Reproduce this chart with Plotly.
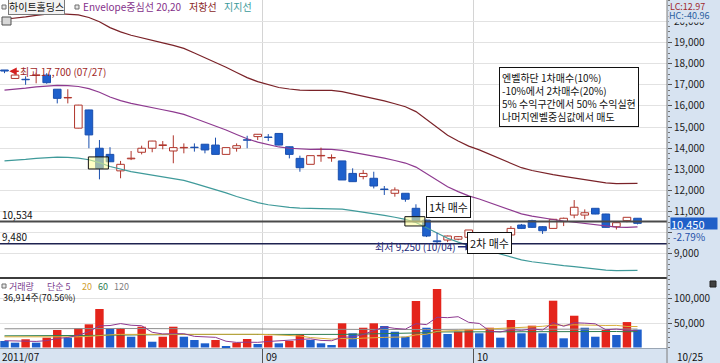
import plotly.graph_objects as go

# ---------------- data ----------------
DATES = ([f"2011-07-{d:02d}" for d in (27, 28, 29)]
         + [f"2011-08-{d:02d}" for d in (1, 2, 3, 4, 5, 8, 9, 10, 11, 12, 16, 17, 18, 19, 22, 23, 24, 25, 26, 29, 30, 31)]
         + [f"2011-09-{d:02d}" for d in (1, 2, 5, 6, 7, 8, 9, 14, 15, 16, 19, 20, 21, 22, 23, 26, 27, 28, 29, 30)]
         + [f"2011-10-{d:02d}" for d in (4, 5, 6, 7, 10, 11, 12, 13, 14, 17, 18, 19, 20, 21, 24, 25)])

OPEN = [17700, 17300, 17260, 17440, 17460, 16790, 16380, 14950, 15810, 14000,
        13710, 12930, 13500, 13810, 14000, 14130, 13870, 14020, 14050, 14190,
        14150, 13710, 14000, 14400, 14550, 14530, 14700, 14070, 13520, 13240,
        13640, 13540, 13400, 12810, 12660, 12580, 12070, 11870, 11870, 11160,
        10600, 9620, 9660, 9700, 9790, 9350, 9660, 9580, 9900, 10370,
        10575, 10290, 10210, 10530, 10840, 10840, 11160, 10890, 10290, 10575, 10690]
HIGH = [17700, 17560, 17400, 17570, 17550, 16800, 16790, 16050, 15820, 14390,
        14050, 13400, 13870, 14120, 14350, 14340, 14610, 14230, 14230, 14200,
        14500, 14030, 14230, 14590, 14670, 14670, 14710, 14080, 13650, 13650,
        14030, 13710, 13400, 13050, 12970, 12890, 12215, 12150, 11880, 11350,
        10620, 10000, 9870, 9850, 10140, 9600, 9700, 9850, 10320, 10420,
        10620, 10320, 10660, 10720, 11550, 11110, 11170, 10900, 10490, 10740, 10700]
LOW = [17550, 17280, 17000, 17070, 17050, 16120, 16120, 14940, 14000, 12530,
       13350, 12580, 13440, 13710, 13810, 13950, 13290, 13760, 13840, 13760,
       13700, 13710, 13840, 14000, 14390, 14340, 14140, 13520, 12890, 13240,
       13360, 13360, 12500, 12410, 12530, 12100, 11790, 11710, 11470, 10520,
       9800, 9480, 9560, 9650, 9780, 9250, 9480, 9560, 9820, 10180,
       10230, 9950, 10200, 10320, 10690, 10640, 10880, 10250, 10160, 10500, 10400]
CLOSE = [17650, 17460, 17240, 17470, 17100, 16360, 16400, 16040, 14630, 13050,
         13360, 13240, 13530, 14000, 14340, 14160, 14030, 14040, 14030, 13920,
         13710, 14030, 14120, 14380, 14660, 14510, 14150, 13710, 13080, 13650,
         13660, 13560, 12500, 12420, 12810, 12215, 12050, 12025, 11590, 10530,
         9850, 9580, 9850, 9820, 10135, 9580, 9510, 9770, 10210, 10210,
         10260, 10100, 10640, 10690, 11210, 10950, 10890, 10260, 10480, 10735, 10450]

# Envelope (20-day centre line, +/-20 %)
ENV_CENTER = [16750, 16780, 16840, 16900, 16950, 16970, 16960, 16920, 16820, 16650,
              16420, 16250, 16120, 16010, 15910, 15820, 15720, 15600, 15420, 15240,
              15060, 14860, 14650, 14450, 14290, 14160, 14060, 14000, 13960, 13950,
              13960, 13950, 13900, 13810, 13730, 13640, 13530, 13420, 13300, 13110,
              12800, 12480, 12180, 11950, 11750, 11600, 11420, 11230, 11050, 10900,
              10790, 10700, 10630, 10560, 10500, 10420, 10360, 10300, 10270, 10260, 10280]
ENV_PCT = 20

VOLUME = [13400, 9900, 16900, 9900, 20200, 36000, 20200, 39500, 47700, 79200,
          39500, 40200, 22200, 42800, 11900, 22200, 42800, 22200, 15400, 8600,
          15400, 3100, 9900, 17500, 7200, 24300, 8600, 13400, 27200, 15400,
          8600, 5100, 49800, 29200, 40700, 49800, 44200, 32500, 22200, 95700,
          40700, 120400, 27800, 32500, 37400, 29200, 40700, 20200, 56600, 29200,
          44900, 29200, 96300, 18900, 65400, 40700, 22200, 36000, 25700, 52316, 36914]

# volume moving averages (thousands of shares)
VOL_MA5_K = [14.0, 13.0, 13.0, 12.5, 14.1, 18.6, 20.6, 25.2, 32.7, 44.5,
             45.2, 49.2, 45.8, 44.8, 31.3, 27.9, 28.4, 28.4, 22.9, 22.2,
             20.9, 12.9, 10.5, 10.9, 10.6, 12.4, 13.5, 14.2, 16.1, 17.8,
             14.6, 13.9, 21.2, 21.6, 26.7, 34.9, 42.7, 39.3, 37.9, 48.9,
             47.1, 62.3, 61.4, 63.4, 51.8, 49.5, 33.5, 32.0, 36.8, 35.2,
             38.3, 36.0, 51.2, 43.7, 50.9, 50.1, 48.7, 36.6, 38.0, 35.4, 34.6]
VOL_MA20_K = [22.0, 22.0, 21.5, 21.0, 21.0, 21.5, 21.5, 22.0, 23.0, 25.0,
              26.0, 27.0, 27.0, 28.0, 27.5, 27.5, 28.5, 28.5, 28.0, 28.0,
              28.1, 27.8, 27.4, 28.3, 27.2, 26.6, 26.0, 24.7, 23.7, 20.5,
              18.9, 17.2, 18.6, 17.9, 19.3, 20.7, 20.8, 21.3, 21.6, 26.0,
              27.3, 33.1, 34.0, 34.8, 36.3, 36.5, 38.1, 38.5, 39.9, 40.6,
              42.4, 43.6, 46.0, 45.5, 46.7, 46.2, 45.1, 45.3, 45.5, 43.3, 43.1]
VOL_MA60_K = [24.0, 24.0, 23.8, 23.6, 23.5, 23.6, 23.6, 23.8, 24.2, 25.0,
              25.4, 25.8, 25.9, 26.3, 26.2, 26.3, 26.7, 26.8, 26.8, 26.7,
              26.7, 26.5, 26.4, 26.5, 26.3, 26.5, 26.4, 26.4, 26.7, 26.7,
              26.6, 26.4, 27.0, 27.2, 27.7, 28.1, 28.6, 28.8, 28.9, 30.0,
              30.4, 32.0, 32.1, 32.3, 32.6, 32.6, 32.8, 32.5, 32.9, 32.8,
              32.9, 32.8, 33.6, 33.3, 33.7, 33.6, 33.2, 33.1, 32.9, 32.4, 32.8]
VOL_MA120_K = [38.5, 38.4, 38.4, 38.3, 38.3, 38.4, 38.4, 38.5, 38.6, 38.9,
               39.0, 39.1, 39.0, 39.1, 38.9, 38.8, 38.9, 38.8, 38.6, 38.4,
               38.2, 38.0, 37.8, 37.6, 37.4, 37.3, 37.1, 36.9, 36.8, 36.6,
               36.4, 36.2, 36.3, 36.3, 36.4, 36.5, 36.6, 36.6, 36.5, 36.9,
               37.0, 37.6, 37.5, 37.5, 37.6, 37.5, 37.6, 37.4, 37.6, 37.5,
               37.6, 37.5, 38.0, 37.8, 38.1, 38.1, 37.9, 37.9, 37.8, 38.0, 37.9]

PRICE_TICKS = list(range(9000, 20001, 1000))
HIDDEN_PRICE_LABELS = [10000]   # covered by the change-% label in the original
VOL_TICKS = [50000, 100000]
LEVEL_LINES = [10534, 9480]
HIGH_MARK = ("최고 17,700 (07/27)", 0, 17700)
LOW_MARK = ("최저 9,250 (10/04)", 45, 9250)
BUY_SIGNALS = [(9, 13020, 13590), (39, 10325, 10765), (45, 9235, 9580)]
NOTE_LINES = ["엔벨하단 1차매수(10%)", "-10%에서 2차매수(20%)",
              "5% 수익구간에서 50% 수익실현", "나머지엔벨중심값에서 매도"]
CHANGE_PCT = "-2.79%"

# ---------------- geometry / style ----------------
W, H = 720, 363
PLOT_R = 667
FIRST_PX, STEP_PX = 4.5, 10.55
X_RANGE = [-FIRST_PX / STEP_PX, (PLOT_R - FIRST_PX) / STEP_PX]
PRICE_TOP, PRICE_BOT = 0, 278
VOL_TOP, VOL_BOT = 279, 348
Y_RANGE = [7865, 21009]
V_RANGE = [-1029, 140946]

FONT = "Noto Sans CJK KR"
PANEL_BG = "#D7E3F1"
UP_LINE = "#B0352B"
DN_FILL = "#1E60CC"
DN_LINE = "#1A4FAE"
C_CENTER = "#8E3A90"
C_UPPER = "#7A2228"
C_LOWER = "#3F9A9A"
V_RED = "#E4241B"
V_BLUE = "#1E5FCC"


def PX(x):
    return x / W


def PY(y):
    return 1 - y / H


idx = list(range(len(DATES)))
upper = [c * (1 + ENV_PCT / 100) for c in ENV_CENTER]
lower = [c * (1 - ENV_PCT / 100) for c in ENV_CENTER]

fig = go.Figure()

for ys, col in ((upper, C_UPPER), (ENV_CENTER, C_CENTER), (lower, C_LOWER)):
    fig.add_trace(go.Scatter(x=idx, y=ys, mode="lines", line=dict(color=col, width=1.2),
                             xaxis="x", yaxis="y", hoverinfo="skip", showlegend=False))

# candles: bodies (bars) + wicks outside the bodies
is_up = [c > o for o, c in zip(OPEN, CLOSE)]
body_base = [min(o, c) for o, c in zip(OPEN, CLOSE)]
body_top = [max(o, c) for o, c in zip(OPEN, CLOSE)]
body_h = [max(abs(c - o), 12) for o, c in zip(OPEN, CLOSE)]
fig.add_trace(go.Bar(x=idx, y=body_h, base=body_base, width=0.72,
                     marker=dict(color=["white" if u else DN_FILL for u in is_up],
                                 line=dict(color=[UP_LINE if u else DN_LINE for u in is_up], width=1)),
                     xaxis="x", yaxis="y", hoverinfo="skip", showlegend=False))
for up_flag, col in ((True, UP_LINE), (False, DN_LINE)):
    wx, wy = [], []
    for i in idx:
        if is_up[i] == up_flag:
            if HIGH[i] > body_top[i]:
                wx += [i, i, None]
                wy += [body_top[i], HIGH[i], None]
            if LOW[i] < body_base[i]:
                wx += [i, i, None]
                wy += [LOW[i], body_base[i], None]
    fig.add_trace(go.Scatter(x=wx, y=wy, mode="lines", line=dict(color=col, width=1),
                             xaxis="x", yaxis="y", hoverinfo="skip", showlegend=False))

vol_colors = [V_BLUE] + [V_RED if VOLUME[i] >= VOLUME[i - 1] else V_BLUE for i in range(1, len(VOLUME))]
fig.add_trace(go.Bar(x=idx, y=VOLUME, width=0.8, marker=dict(color=vol_colors, line=dict(width=0)),
                     xaxis="x2", yaxis="y2", hoverinfo="skip", showlegend=False))

for vals, col in ((VOL_MA120_K, "#8C8C8C"), (VOL_MA60_K, "#2E7D4F"),
                  (VOL_MA20_K, "#D8AE3A"), (VOL_MA5_K, "#8E3A90")):
    fig.add_trace(go.Scatter(x=idx, y=[v * 1000 for v in vals], mode="lines",
                             line=dict(color=col, width=1), xaxis="x2", yaxis="y2",
                             hoverinfo="skip", showlegend=False))

# month boundaries (first trading day of Sep / Oct)
month_pos = []
for m in ("09", "10"):
    first = next(i for i, d in enumerate(DATES) if d[5:7] == m)
    month_pos.append((first - 0.5, m))

shapes = []
annos = []

# level lines
for lv, col, wd in zip(LEVEL_LINES, ("#4A4A4A", "#1E2250"), (2, 1.5)):
    shapes.append(dict(type="line", xref="paper", yref="y", x0=0, x1=PX(PLOT_R), y0=lv, y1=lv,
                       line=dict(color=col, width=wd), layer="above"))
    annos.append(dict(xref="paper", yref="y", x=0, y=lv, yshift=7, xanchor="left", yanchor="middle",
                      text=f"{lv:,}", showarrow=False, font=dict(family=FONT, size=10, color="#111")))

# buy signal rectangles
for i, lo, hi in BUY_SIGNALS:
    shapes.append(dict(type="rect", xref="x", yref="y", x0=i - 1.05, x1=i + 0.85, y0=lo, y1=hi,
                       fillcolor="rgba(255,255,150,0.55)", line=dict(color="#111", width=1), layer="above"))

# panel separators / borders
shapes += [
    dict(type="line", xref="paper", yref="paper", x0=0, x1=PX(PLOT_R), y0=PY(278), y1=PY(278),
         line=dict(color="#3C3C3C", width=2)),
    dict(type="line", xref="paper", yref="paper", x0=0, x1=PX(PLOT_R), y0=PY(348.5), y1=PY(348.5),
         line=dict(color="#9AA6B4", width=1)),
    dict(type="line", xref="paper", yref="paper", x0=PX(PLOT_R), x1=PX(PLOT_R), y0=0, y1=1,
         line=dict(color="#7C7C7C", width=1)),
]

# legend squares
for sx, sy in ((2, 7), (75, 7), (2, 286)):
    shapes.append(dict(type="rect", xref="paper", yref="paper", x0=PX(sx), x1=PX(sx + 4),
                       y0=PY(sy + 2), y1=PY(sy - 2), fillcolor="#E6E6E6", line=dict(color="#6E6E6E", width=1)))
# small chart icon
shapes.append(dict(type="rect", xref="paper", yref="paper", x0=PX(2), x1=PX(11), y0=PY(25), y1=PY(17),
                   fillcolor="#D8D8D8", line=dict(color="#505050", width=1)))
# small box icon in volume panel
shapes.append(dict(type="rect", xref="paper", yref="paper", x0=PX(710), x1=PX(716), y0=PY(287), y1=PY(281),
                   fillcolor="#404040", line=dict(color="#202020", width=1)))

# top legend
annos += [
    dict(xref="paper", yref="paper", x=PX(8), y=PY(7), xanchor="left", yanchor="middle", text="하이트홀딩스",
         showarrow=False, bordercolor="#7A7A7A", borderwidth=1, borderpad=0, bgcolor="#F2F2F2",
         font=dict(family=FONT, size=10, color="#111")),
    dict(xref="paper", yref="paper", x=PX(81), y=PY(7), xanchor="left", yanchor="middle",
         text="Envelope중심선 20,20", showarrow=False, font=dict(family=FONT, size=10, color="#84308A")),
    dict(xref="paper", yref="paper", x=PX(187), y=PY(7), xanchor="left", yanchor="middle",
         text="저항선", showarrow=False, font=dict(family=FONT, size=10, color="#8A1E24")),
    dict(xref="paper", yref="paper", x=PX(222), y=PY(7), xanchor="left", yanchor="middle",
         text="지지선", showarrow=False, font=dict(family=FONT, size=10, color="#3A9A9A")),
]

# right panel texts (HC drawn first so LC stays fully visible)
annos += [
    dict(xref="paper", yref="paper", x=PX(668), y=PY(15.5), xanchor="left", yanchor="middle", text="HC:-40.96",
         showarrow=False, bgcolor=PANEL_BG, borderpad=0, font=dict(family=FONT, size=9, color="#2A5FA0")),
    dict(xref="paper", yref="paper", x=PX(668), y=PY(6.5), xanchor="left", yanchor="middle", text="LC:12.97",
         showarrow=False, font=dict(family=FONT, size=9, color="#A0282D")),
    dict(xref="paper", yref="paper", x=PX(671), y=PY(236.5), xanchor="left", yanchor="middle",
         text=CHANGE_PCT, showarrow=False, font=dict(family=FONT, size=10, color="#1E50A8")),
    dict(xref="paper", yref="y", x=PX(670), y=CLOSE[-1], xanchor="left", yanchor="middle",
         text=f"{CLOSE[-1]:,}", showarrow=False, bgcolor="#1F5FC8", width=46, height=11, align="left",
         borderpad=0, font=dict(family=FONT, size=11, color="white")),
]

# high / low markers
txt, hi_i, hi_p = HIGH_MARK
annos.append(dict(xref="x", yref="y", x=hi_i + 0.45, y=hi_p - 60, ax=54, ay=0, text=txt, showarrow=True,
                  arrowhead=2, arrowsize=1, arrowwidth=1.5, arrowcolor="#D42020", standoff=0,
                  font=dict(family=FONT, size=10, color="#A02828")))
txt, lo_i, lo_p = LOW_MARK
annos.append(dict(xref="x", yref="y", x=lo_i - 0.6, y=lo_p + 95, ax=-57, ay=0, text=txt, showarrow=True,
                  arrowhead=2, arrowsize=1, arrowwidth=1.5, arrowcolor="#1E2A7A", standoff=0,
                  font=dict(family=FONT, size=10, color="#1E2A7A")))

# callout boxes
annos += [
    dict(xref="paper", yref="paper", x=PX(448.5), y=PY(207), text="1차 매수", showarrow=False,
         bgcolor="white", bordercolor="#111", borderwidth=1, borderpad=2,
         font=dict(family=FONT, size=11, color="#111")),
    dict(xref="paper", yref="paper", x=PX(511.5), y=PY(253.5), text="2차 매수", showarrow=False,
         bgcolor="white", bordercolor="#111", borderwidth=1, borderpad=2,
         font=dict(family=FONT, size=11, color="#111")),
    dict(xref="paper", yref="paper", x=PX(499), y=PY(67), xanchor="left", yanchor="top",
         text="<br>".join(NOTE_LINES), align="left", showarrow=False,
         bgcolor="white", bordercolor="#111", borderwidth=1, borderpad=2,
         font=dict(family=FONT, size=10, color="#111")),
]

# volume legend
for x0, t, col in ((7, "거래량", "#7A3E8E"), (45, "단순 5", "#7A3E8E"), (80, "20", "#D0A030"),
                   (96, "60", "#2E7D4F"), (112, "120", "#7F7F7F")):
    annos.append(dict(xref="paper", yref="paper", x=PX(x0), y=PY(286), xanchor="left", yanchor="middle",
                      text=t, showarrow=False, font=dict(family=FONT, size=9, color=col)))
annos.append(dict(xref="paper", yref="paper", x=PX(1), y=PY(297), xanchor="left", yanchor="middle",
                  text=f"{VOLUME[-1]:,}주({VOLUME[-1] / VOLUME[-2] * 100:.2f}%)", showarrow=False,
                  font=dict(family=FONT, size=9, color="#111")))

# date labels
annos.append(dict(xref="paper", yref="paper", x=0, y=PY(356), xanchor="left", yanchor="middle",
                  text=DATES[0][:4] + "/" + DATES[0][5:7], showarrow=False,
                  font=dict(family=FONT, size=10, color="#111")))
for pos, m in month_pos:
    annos.append(dict(xref="x2", yref="paper", x=pos, y=PY(356), xanchor="left", yanchor="middle",
                      xshift=1, text=m, showarrow=False, font=dict(family=FONT, size=10, color="#111")))
annos.append(dict(xref="paper", yref="paper", x=PX(675), y=PY(356), xanchor="left", yanchor="middle",
                  text=DATES[-1][5:7] + "/" + DATES[-1][8:10], showarrow=False,
                  font=dict(family=FONT, size=10, color="#111")))

month_vals = [p for p, _ in month_pos]
price_ticktext = ["" if v in HIDDEN_PRICE_LABELS else f"{v:,}" for v in PRICE_TICKS]
fig.update_layout(
    width=W, height=H, margin=dict(l=0, r=0, t=0, b=0),
    paper_bgcolor=PANEL_BG, plot_bgcolor="white", hovermode=False, showlegend=False,
    barmode="overlay",
    font=dict(family=FONT, size=10, color="#222"),
    xaxis=dict(domain=[0, PX(PLOT_R)], range=X_RANGE, anchor="y", showticklabels=False,
               tickvals=month_vals, ticks="", showgrid=True, gridcolor="#D4D4D4", gridwidth=1,
               zeroline=False, showline=False, fixedrange=True),
    yaxis=dict(domain=[PY(PRICE_BOT), PY(PRICE_TOP)], range=Y_RANGE, anchor="x", side="right",
               tickvals=PRICE_TICKS, ticktext=price_ticktext, ticks="outside", ticklen=4, tickcolor="#555",
               tickfont=dict(family=FONT, size=10, color="#222"), showgrid=True, gridcolor="#E2E2E2",
               zeroline=False, showline=False,
               minor=dict(ticks="outside", ticklen=2, dtick=250, tickcolor="#777", showgrid=False)),
    xaxis2=dict(domain=[0, PX(PLOT_R)], range=X_RANGE, anchor="y2", showticklabels=False,
                tickvals=month_vals, ticks="outside", ticklen=15, tickcolor="#555", showgrid=True,
                gridcolor="#D4D4D4", zeroline=False, showline=False, fixedrange=True),
    yaxis2=dict(domain=[PY(VOL_BOT), PY(VOL_TOP)], range=V_RANGE, anchor="x2", side="right",
                tickvals=VOL_TICKS, tickformat=",d", ticks="outside", ticklen=4, tickcolor="#555",
                tickfont=dict(family=FONT, size=10, color="#222"), showgrid=True, gridcolor="#E2E2E2",
                zeroline=False, showline=False,
                minor=dict(ticks="outside", ticklen=2, dtick=10000, tickcolor="#777", showgrid=False)),
    shapes=shapes, annotations=annos,
)

fig.write_html("out.html", config={"displayModeBar": False},
               post_script="document.body.style.margin='0';document.body.style.padding='0';")
